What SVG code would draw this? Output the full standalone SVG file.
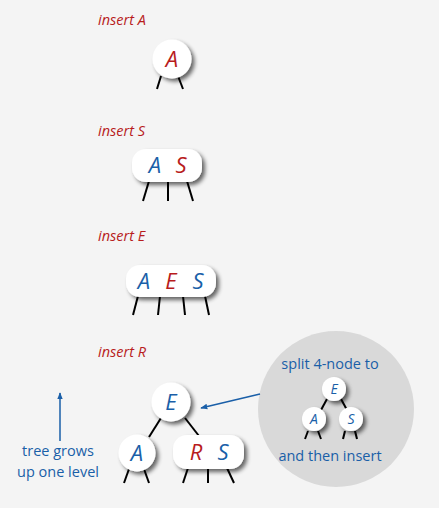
<svg xmlns="http://www.w3.org/2000/svg" width="439" height="508" viewBox="0 0 439 508">
<defs>
<filter id="sh" x="-40%" y="-40%" width="190%" height="190%">
<feGaussianBlur in="SourceAlpha" stdDeviation="2"/>
<feOffset dx="3" dy="3" result="b"/>
<feComponentTransfer><feFuncA type="linear" slope="0.6"/></feComponentTransfer>
<feMerge><feMergeNode/><feMergeNode in="SourceGraphic"/></feMerge>
</filter>
<marker id="ah" viewBox="0 0 10 10" refX="9" refY="5" markerWidth="7" markerHeight="7" orient="auto" markerUnits="userSpaceOnUse">
<path d="M0,1 L10,5 L0,9 z" fill="#1a5fa8"/>
</marker>
<style>
.lbl{font-family:"Open Sans","Noto Sans",sans-serif;font-style:italic;font-size:14.5px;fill:#b81c1c}
.k{font-family:"Open Sans","Noto Sans",sans-serif;font-style:italic;font-size:22px;text-anchor:middle}
.ks{font-family:"Open Sans","Noto Sans",sans-serif;font-style:italic;font-size:14px;text-anchor:middle;fill:#1a5fa8}
.b{fill:#1a5fa8}
.r{fill:#b81c1c}
.nd{fill:#fff;filter:url(#sh)}
.e{stroke:#000;stroke-width:2;fill:none}
.note{font-family:"Open Sans","Noto Sans",sans-serif;font-size:14.5px;fill:#1a5fa8;text-anchor:middle}
.bl{stroke:#1a5fa8;stroke-width:1.5;fill:none}
</style>
</defs>
<rect width="439" height="508" fill="#f4f4f4"/>

<g id="labels">
<text class="lbl" x="98" y="25">insert A</text>
<text class="lbl" x="98" y="136">insert S</text>
<text class="lbl" x="98" y="241">insert E</text>
<text class="lbl" x="98" y="357">insert R</text>
</g>

<g id="bubble">
<circle cx="336" cy="409" r="78" fill="#d9d9d9"/>
</g>

<g id="connectors">
<line class="e" x1="161" y1="76" x2="157" y2="89"/>
<line class="e" x1="178" y1="76" x2="183" y2="89"/>
<line class="e" x1="149" y1="181" x2="143" y2="201"/>
<line class="e" x1="168" y1="181" x2="168" y2="201"/>
<line class="e" x1="187" y1="181" x2="193" y2="201"/>
<line class="e" x1="138" y1="296" x2="133" y2="315"/>
<line class="e" x1="160" y1="296" x2="158" y2="315"/>
<line class="e" x1="183" y1="296" x2="185" y2="315"/>
<line class="e" x1="205" y1="296" x2="209" y2="315"/>
<line class="e" x1="161" y1="418" x2="149" y2="437"/>
<line class="e" x1="185" y1="418" x2="199" y2="436"/>
<line class="e" x1="129" y1="469" x2="124" y2="483"/>
<line class="e" x1="144" y1="469" x2="149" y2="483"/>
<line class="e" x1="188" y1="468" x2="183" y2="483"/>
<line class="e" x1="208" y1="468" x2="208" y2="483"/>
<line class="e" x1="227" y1="468" x2="234" y2="483"/>
<line class="e" x1="327" y1="399" x2="321" y2="410"/>
<line class="e" x1="341" y1="399" x2="347" y2="410"/>
<line class="e" x1="308" y1="431" x2="305" y2="439"/>
<line class="e" x1="318" y1="431" x2="321" y2="439"/>
<line class="e" x1="345" y1="431" x2="343" y2="439"/>
<line class="e" x1="355" y1="431" x2="357" y2="439"/>
<line class="bl" x1="260" y1="394" x2="201" y2="408" marker-end="url(#ah)"/>
<line class="bl" x1="60" y1="441" x2="60" y2="393" marker-end="url(#ah)"/>
</g>

<g id="nodeA1">
<circle class="nd" cx="172" cy="59" r="19.5"/>
<text class="k r" x="172" y="67">A</text>
</g>

<g id="nodeAS">
<rect class="nd" x="132" y="149" width="70" height="33" rx="14"/>
<text class="k b" x="155" y="173">A</text>
<text class="k r" x="181" y="173">S</text>
</g>

<g id="nodeAES">
<rect class="nd" x="126" y="265" width="90" height="32" rx="14"/>
<text class="k b" x="144" y="289">A</text>
<text class="k r" x="171" y="289">E</text>
<text class="k b" x="198" y="289">S</text>
</g>

<g id="nodeE">
<circle class="nd" cx="171" cy="402" r="19.5"/>
<text class="k b" x="171" y="410">E</text>
</g>

<g id="nodeA2">
<circle class="nd" cx="137" cy="453" r="18.5"/>
<text class="k b" x="137" y="461">A</text>
</g>

<g id="nodeRS">
<rect class="nd" x="173" y="435" width="71" height="34" rx="14"/>
<text class="k r" x="196" y="460">R</text>
<text class="k b" x="223" y="460">S</text>
</g>

<g id="smallE">
<circle class="nd" cx="334" cy="389" r="12"/>
<text class="ks" x="334" y="394">E</text>
</g>
<g id="smallA">
<circle class="nd" cx="314" cy="419" r="12"/>
<text class="ks" x="314" y="424">A</text>
</g>
<g id="smallS">
<circle class="nd" cx="351" cy="419" r="12"/>
<text class="ks" x="351" y="424">S</text>
</g>

<g id="notes">
<text class="note" x="330" y="369">split 4-node to</text>
<text class="note" x="330" y="461">and then insert</text>
<text class="note" x="58" y="456">tree grows</text>
<text class="note" x="58" y="477">up one level</text>
</g>
</svg>
